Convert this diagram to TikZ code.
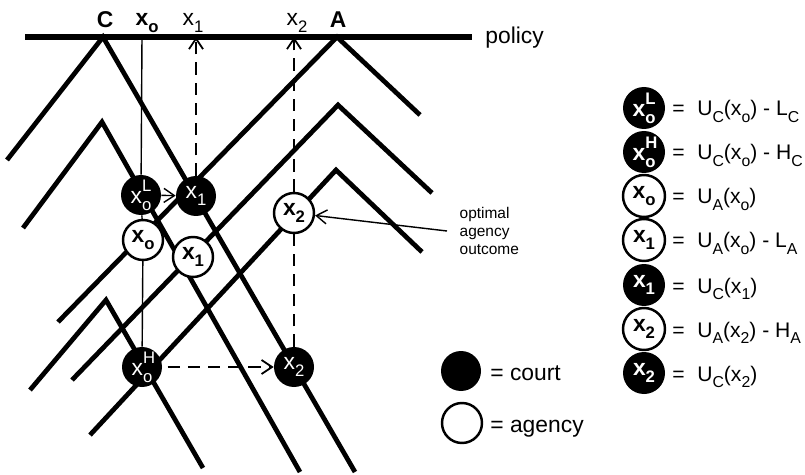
\documentclass[tikz,border=0pt]{standalone}
\usepackage{fontspec}
\setmainfont{Liberation Sans}
\usetikzlibrary{arrows.meta,positioning}

% lowered / raised indices for the x and U labels
\newcommand{\dsub}[1]{\raisebox{-0.55ex}{\fontsize{9.5}{10}\selectfont #1}}
\newcommand{\usup}[1]{\raisebox{1.05ex}{\fontsize{9.5}{10}\selectfont #1}}
\newcommand{\ksub}[1]{\raisebox{-0.55ex}{\fontsize{9}{10}\selectfont #1}}

\begin{document}
\begin{tikzpicture}[
  curve/.style={line width=2.7pt},
  court/.style={circle, fill=black, text=white, minimum size=0.8cm, inner sep=0pt,
    font=\fontsize{13}{14}\selectfont},
  agency/.style={circle, draw, fill=white, line width=1.4pt, minimum size=0.8cm,
    inner sep=0pt, font=\fontsize{13}{14}\selectfont\bfseries},
  guide/.style={line width=0.8pt},
  dashguide/.style={line width=1pt, dash pattern=on 7pt off 4.5pt},
  tip/.style={-{Straight Barb[length=6pt,width=8pt]}},
  top/.style={anchor=base, inner sep=0pt, font=\fontsize{13}{15}\selectfont},
  topb/.style={anchor=base, inner sep=0pt, font=\fontsize{13}{15}\selectfont\bfseries},
  key/.style={anchor=base west, inner sep=0pt, font=\fontsize{13}{15}\selectfont},
  row/.style={anchor=base west, inner sep=0pt, font=\fontsize{12}{14}\selectfont}
]
\useasboundingbox (0,0) rectangle (16.1,-9.5);

% court indifference curves (peak over C)
\draw[curve] (0.14,-3.2) -- (2.06,-0.74) -- (7.1,-9.44);
\draw[curve] (0.46,-4.56) -- (2.04,-2.44) -- (6.0,-9.44);
\draw[curve] (0.6,-7.8) -- (2.12,-6.0) -- (4.06,-9.36);

% agency indifference curves (peak over A)
\draw[curve] (1.16,-6.44) -- (6.74,-0.74) -- (8.4,-2.3);
\draw[curve] (1.44,-7.6) -- (6.76,-2.1) -- (8.64,-3.86);
\draw[curve] (1.8,-8.7) -- (6.72,-3.4) -- (8.44,-5.04);

% policy axis
\draw[line width=3pt] (0.5,-0.74) -- (9.44,-0.74);
\node[key] (policy) at (9.7,-0.88) {policy};

\node[topb] (labC) at (2.1,-0.56) {C};
\node[topb] (labxo) at (2.94,-0.52) {x\dsub{o}};
\node[top] (labxa) at (3.86,-0.52) {x\dsub{1}};
\node[top] (labxb) at (5.94,-0.52) {x\dsub{2}};
\node[topb] (labA) at (6.76,-0.56) {A};

\coordinate (pxo) at (2.84,-0.74);
\coordinate (pxa) at (3.92,-0.74);
\coordinate (pxb) at (5.88,-0.74);

% outcomes
\node[court] (xoL) at (2.82,-3.9) {x\rlap{\usup{L}}\dsub{o}};
\node[court] (xC1) at (3.92,-3.92) {x\dsub{1}};
\node[agency] (xoA) at (2.86,-4.8) {x\dsub{o}};
\node[agency] (xA1) at (3.86,-5.14) {x\dsub{1}};
\node[agency] (xA2) at (5.88,-4.26) {x\dsub{2}};
\node[court] (xoH) at (2.84,-7.34) {x\rlap{\usup{H}}\dsub{o}};
\node[court] (xC2) at (5.88,-7.34) {x\dsub{2}};

\draw[guide] (pxo) -- (xoL) (xoL) -- (xoA) (xoA) -- (xoH);
\draw[guide, tip] (xoL) -- (xC1);
\draw[dashguide, tip] (xC1) -- (pxa);
\draw[dashguide] (xC2) -- (xA2);
\draw[dashguide, tip] (xA2) -- (pxb);
\draw[dashguide, tip, shorten <=3pt] (xoH) -- (xC2);

\node[anchor=west, align=left, inner xsep=7pt, font=\fontsize{8.8}{10.3}\selectfont]
  (note) at (8.94,-4.62) {optimal\\agency\\outcome};
\draw[guide, tip] (note.west) -- (xA2);

% who is who
\node[court] (keyC) at (9.22,-7.42) {};
\node[key] (keyCtxt) at (9.8,-7.6) {= court};
\node[agency] (keyA) at (9.24,-8.46) {};
\node[key] (keyAtxt) at (9.8,-8.64) {= agency};

% utilities legend
\node[court, minimum size=0.84cm, font=\fontsize{13}{14}\selectfont\bfseries] (rowa) at (12.88,-2.16) {x\rlap{\usup{L}}\dsub{o}};
\node[row] (rowatxt) at (13.44,-2.32) {=\hspace{0.6em}U\ksub{C}(x\ksub{o}) - L\ksub{C}};
\node[court, minimum size=0.84cm, font=\fontsize{13}{14}\selectfont\bfseries] (rowb) at (12.88,-3.04) {x\rlap{\usup{H}}\dsub{o}};
\node[row] (rowbtxt) at (13.44,-3.2) {=\hspace{0.6em}U\ksub{C}(x\ksub{o}) - H\ksub{C}};
\node[agency, minimum size=0.84cm] (rowc) at (12.88,-3.92) {x\dsub{o}};
\node[row] (rowctxt) at (13.44,-4.08) {=\hspace{0.6em}U\ksub{A}(x\ksub{o})};
\node[agency, minimum size=0.84cm] (rowd) at (12.88,-4.8) {x\dsub{1}};
\node[row] (rowdtxt) at (13.44,-4.96) {=\hspace{0.6em}U\ksub{A}(x\ksub{o}) - L\ksub{A}};
\node[court, minimum size=0.84cm, font=\fontsize{13}{14}\selectfont\bfseries] (rowe) at (12.88,-5.7) {x\dsub{1}};
\node[row] (rowetxt) at (13.44,-5.86) {=\hspace{0.6em}U\ksub{C}(x\ksub{1})};
\node[agency, minimum size=0.84cm] (rowf) at (12.88,-6.58) {x\dsub{2}};
\node[row] (rowftxt) at (13.44,-6.74) {=\hspace{0.6em}U\ksub{A}(x\ksub{2}) - H\ksub{A}};
\node[court, minimum size=0.84cm, font=\fontsize{13}{14}\selectfont\bfseries] (rowg) at (12.88,-7.46) {x\dsub{2}};
\node[row] (rowgtxt) at (13.44,-7.62) {=\hspace{0.6em}U\ksub{C}(x\ksub{2})};

\end{tikzpicture}
\end{document}
